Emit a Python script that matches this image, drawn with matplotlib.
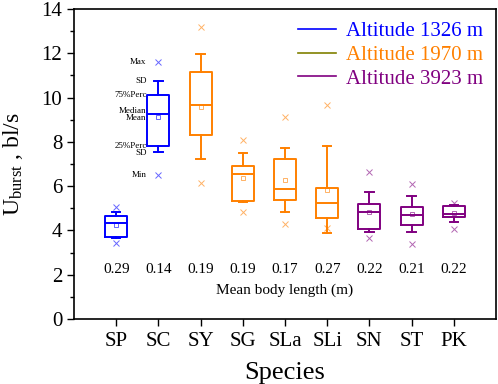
import matplotlib
matplotlib.use('Agg')
import matplotlib.pyplot as plt
from matplotlib.ticker import MultipleLocator

plt.rcParams['font.family'] = ['Liberation Serif', 'DejaVu Serif']
plt.rcParams['mathtext.fontset'] = 'custom'
plt.rcParams['mathtext.rm'] = 'Liberation Serif'
plt.rcParams['mathtext.it'] = 'Liberation Serif:italic'

species = ['SP', 'SC', 'SY', 'SG', 'SLa', 'SLi', 'SN', 'ST', 'PK']
group = [0, 0, 1, 1, 1, 1, 2, 2, 2]
q1 = [3.72, 7.83, 8.31, 5.32, 5.37, 4.55, 4.07, 4.26, 4.62]
med = [4.35, 9.25, 9.68, 6.56, 5.86, 5.24, 4.83, 4.68, 4.74]
q3 = [4.65, 10.12, 11.16, 6.91, 7.24, 5.90, 5.18, 5.07, 5.09]
mean = [4.25, 9.14, 9.59, 6.38, 6.28, 5.83, 4.83, 4.76, 4.77]
sd_lo = [3.66, 7.56, 7.23, 5.27, 4.82, 3.87, 3.92, 3.94, 4.37]
sd_hi = [4.82, 10.75, 11.96, 7.48, 7.71, 7.83, 5.75, 5.56, 5.15]
vmin = [3.45, 6.52, 6.16, 4.82, 4.28, 4.10, 3.64, 3.37, 4.07]
vmax = [5.07, 11.6, 13.2, 8.07, 9.11, 9.65, 6.63, 6.08, 5.22]
body_len = ['0.29', '0.14', '0.19', '0.19', '0.17', '0.27', '0.22', '0.21', '0.22']

alt_labels = ['Altitude 1326 m', 'Altitude 1970 m', 'Altitude 3923 m']
alt_colors = ['#0000FF', '#FF8000', '#800080']
legend_line_colors = ['#0000FF', '#808000', '#800080']

sc_labels = ['Max', 'SD', '75%Perc', 'Median', 'Mean', '25%Perc', 'SD', 'Min']

fig = plt.figure(figsize=(4.98, 3.84), dpi=100)
ax = fig.add_axes([0.1486, 0.169, 0.8474, 0.8076])

for i, sp in enumerate(species):
    c = alt_colors[group[i]]
    st = dict(med=med[i], q1=q1[i], q3=q3[i], whislo=sd_lo[i], whishi=sd_hi[i],
              mean=mean[i], fliers=[vmin[i], vmax[i]], label=sp)
    ax.bxp([st], positions=[i + 1], widths=0.52, capwidths=0.2, showmeans=True,
           boxprops=dict(color=c, lw=1.4), medianprops=dict(color=c, lw=1.4),
           whiskerprops=dict(color=c, lw=1.4), capprops=dict(color=c, lw=1.4),
           meanprops=dict(marker='s', markersize=3.5, markerfacecolor='none',
                          markeredgecolor=c, markeredgewidth=0.6, alpha=0.7),
           flierprops=dict(marker='x', markersize=4, markeredgecolor=c,
                           markeredgewidth=0.7, alpha=0.6))
    ax.text(i + 1, 2.26, body_len[i], ha='center', va='center', fontsize=11)

ax.text(5, 1.31, 'Mean body length (m)', ha='center', va='center', fontsize=11)

# annotation of the SC box
sc_y = [11.6, 10.75, 10.12, 9.4, 9.1, 7.83, 7.5, 6.52]
for lab, y in zip(sc_labels, sc_y):
    ax.text(2 - 0.28, y, lab, ha='right', va='center', fontsize=6.5)

for k in range(3):
    ax.plot([], [], color=legend_line_colors[k], lw=1.2, label=alt_labels[k])
leg = ax.legend(loc='upper right', frameon=False, fontsize=15, handlelength=1.8,
                handletextpad=0.5, labelspacing=0.2, borderaxespad=0.2)
for t, c in zip(leg.get_texts(), alt_colors):
    t.set_color(c)

ax.set_xlim(0, 10)
ax.set_ylim(0, 14)
ax.set_xticks(range(1, 10))
ax.set_xticklabels(species, fontsize=15)
ax.yaxis.set_major_locator(MultipleLocator(2))
ax.yaxis.set_minor_locator(MultipleLocator(1))
ax.tick_params(axis='y', labelsize=15, direction='out', length=5, width=1)
ax.tick_params(axis='y', which='minor', length=3, width=1)
ax.tick_params(axis='x', direction='out', length=5, width=1, pad=4)
for s in ax.spines.values():
    s.set_linewidth(1.2)

ax.set_ylabel(r'U$_{\mathrm{burst}}$ , bl/s', fontsize=17, labelpad=12)
ax.set_xlabel('Species', fontsize=19, labelpad=8)

fig.savefig('out.png', dpi=100)
